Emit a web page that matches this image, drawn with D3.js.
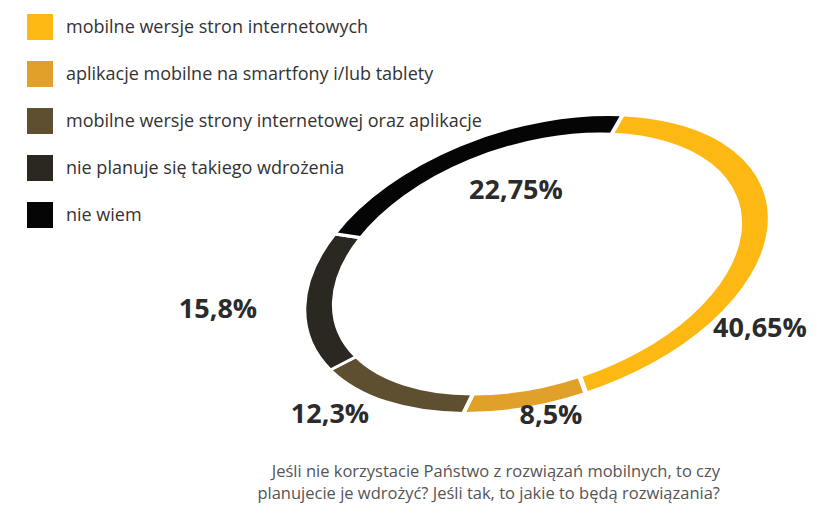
<!DOCTYPE html><html><head><meta charset="utf-8"><script src="https://cdn.jsdelivr.net/npm/d3@7"></script>
<style>body{margin:0;background:#fff}text{font-family:"Open Sans",sans-serif}</style></head><body>
<svg id="c" width="835" height="532"></svg>
<script>
const categories=["mobilne wersje stron internetowych","aplikacje mobilne na smartfony i/lub tablety","mobilne wersje strony internetowej oraz aplikacje","nie planuje się takiego wdrożenia","nie wiem"];
const values=[40.65,8.5,12.3,15.8,22.75];
const labels=["40,65%","8,5%","12,3%","15,8%","22,75%"];
const colors=["#FDB813","#E0A02A","#5E4F30","#2B2721","#050505"];
const labelPos=[[760,337],[551,424],[330,423],[218,318],[516,199]];
const svg=d3.select("#c");
const lg=svg.append("g");
categories.forEach((c,i)=>{
  lg.append("rect").attr("x",27).attr("y",14+i*47).attr("width",26).attr("height",26).attr("fill",colors[i]);
  lg.append("text").attr("x",66).attr("y",33+i*47).attr("font-size",18).attr("fill","#333").text(c);
});
const pie=d3.pie().sort(null).value(d=>d).startAngle(0.55).endAngle(0.55+2*Math.PI);
const arc=d3.arc().innerRadius(0.87).outerRadius(1);
const g=svg.append("g").attr("transform","translate(537,264) rotate(-17) scale(240,138)");
g.selectAll("path").data(pie(values)).join("path").attr("d",arc).attr("fill",(d,i)=>colors[i])
 .attr("stroke","#fff").attr("stroke-width",0.02);
labels.forEach((l,i)=>svg.append("text").attr("x",labelPos[i][0]).attr("y",labelPos[i][1]).attr("text-anchor","middle")
 .attr("font-size",27).attr("font-weight",700).attr("fill","#2b2b2b").text(l));
svg.append("text").attr("x",720).attr("y",477).attr("text-anchor","end").attr("font-size",16.5).attr("fill","#555").text("Jeśli nie korzystacie Państwo z rozwiązań mobilnych, to czy");
svg.append("text").attr("x",720).attr("y",499).attr("text-anchor","end").attr("font-size",16.5).attr("fill","#555").text("planujecie je wdrożyć? Jeśli tak, to jakie to będą rozwiązania?");
</script></body></html>
